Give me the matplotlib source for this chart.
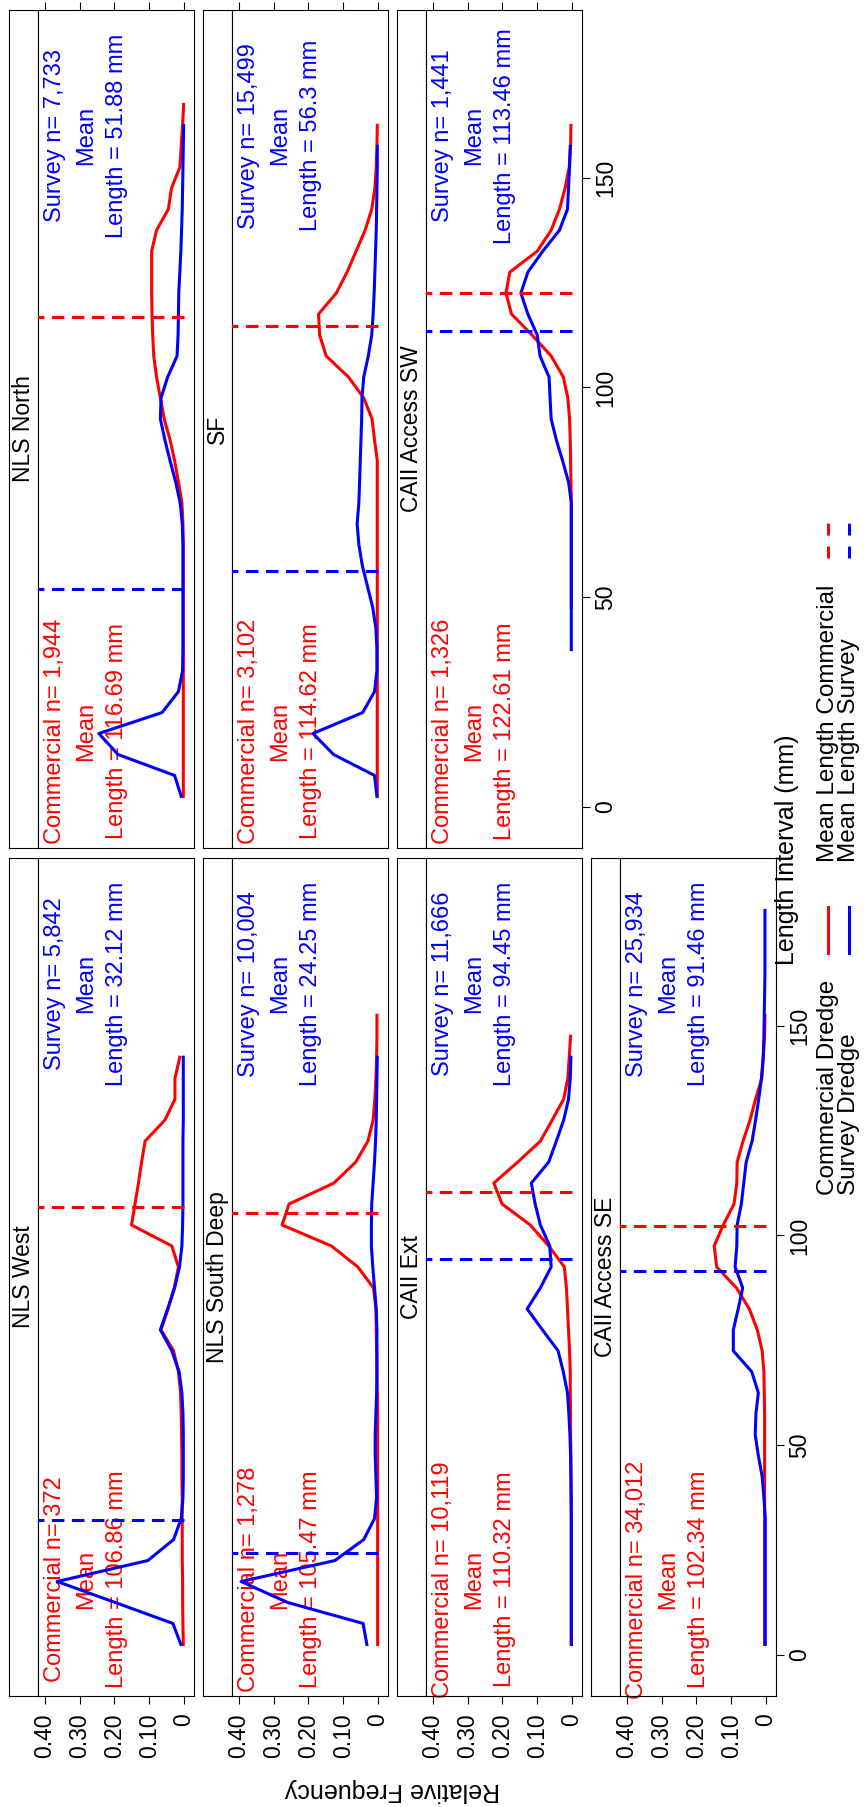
import numpy as np
import matplotlib
matplotlib.use('Agg')
import matplotlib.pyplot as plt
from matplotlib.lines import Line2D

plt.rcParams['font.family'] = ['Liberation Sans', 'DejaVu Sans']

# relative frequency per 5 mm length bin, first bin centre given by *_start
nls_west_comm_start = 2.5
nls_west_comm = [0.002, 0.003, 0.004, 0.004, 0.005, 0.005, 0.005, 0.005, 0.006, 0.006,
                 0.007, 0.008, 0.010, 0.016, 0.030, 0.066, 0.046, 0.028, 0.016, 0.035,
                 0.151, 0.141, 0.131, 0.122, 0.112, 0.055, 0.026, 0.026, 0.012]
nls_west_surv_start = 2.5
nls_west_surv = [0.009, 0.032, 0.198, 0.365, 0.104, 0.030, 0.008, 0.003, 0.002, 0.002,
                 0.002, 0.003, 0.006, 0.014, 0.035, 0.068, 0.047, 0.027, 0.013, 0.006,
                 0.004, 0.003, 0.003, 0.003, 0.003, 0.002, 0.002, 0.002, 0.002]

nls_sd_comm_start = 2.5
nls_sd_comm = [0.001, 0.001, 0.001, 0.001, 0.001, 0.001, 0.001, 0.001, 0.001, 0.001,
               0.001, 0.001, 0.002, 0.003, 0.004, 0.005, 0.006, 0.013, 0.058, 0.134,
               0.276, 0.256, 0.127, 0.064, 0.029, 0.014, 0.009, 0.006, 0.004, 0.003,
               0.003]
nls_sd_surv_start = 2.5
nls_sd_surv = [0.032, 0.043, 0.260, 0.394, 0.124, 0.041, 0.010, 0.004, 0.006, 0.008,
               0.008, 0.006, 0.004, 0.003, 0.003, 0.003, 0.005, 0.010, 0.015, 0.019,
               0.019, 0.018, 0.014, 0.010, 0.007, 0.005, 0.004, 0.003, 0.002]

caii_ext_comm_start = 2.5
caii_ext_comm = [0.002, 0.002, 0.002, 0.002, 0.002, 0.002, 0.002, 0.003, 0.003, 0.003,
                 0.004, 0.004, 0.005, 0.005, 0.007, 0.010, 0.013, 0.016, 0.022, 0.067,
                 0.120, 0.201, 0.225, 0.156, 0.091, 0.057, 0.024, 0.012, 0.008, 0.004]
caii_ext_surv_start = 2.5
caii_ext_surv = [0.002, 0.002, 0.002, 0.002, 0.002, 0.002, 0.002, 0.002, 0.003, 0.004,
                 0.006, 0.009, 0.013, 0.025, 0.040, 0.085, 0.129, 0.091, 0.060, 0.064,
                 0.091, 0.106, 0.117, 0.067, 0.045, 0.024, 0.010, 0.005, 0.003]

caii_se_comm_start = 2.5
caii_se_comm = [0.004, 0.004, 0.004, 0.004, 0.004, 0.004, 0.004, 0.004, 0.004, 0.004,
                0.004, 0.004, 0.005, 0.006, 0.011, 0.025, 0.048, 0.085, 0.142, 0.149,
                0.123, 0.092, 0.084, 0.083, 0.066, 0.046, 0.030, 0.012, 0.008, 0.004,
                0.003]
caii_se_surv_start = 2.5
caii_se_surv = [0.002, 0.002, 0.002, 0.002, 0.002, 0.002, 0.002, 0.006, 0.011, 0.022,
                0.031, 0.029, 0.022, 0.041, 0.094, 0.094, 0.080, 0.067, 0.089, 0.084,
                0.083, 0.071, 0.064, 0.057, 0.040, 0.030, 0.021, 0.013, 0.008, 0.006,
                0.005, 0.004, 0.003, 0.003, 0.003, 0.003]

nls_north_comm_start = 2.5
nls_north_comm = [0.002, 0.002, 0.002, 0.002, 0.002, 0.002, 0.002, 0.002, 0.002, 0.002,
                  0.002, 0.002, 0.002, 0.003, 0.006, 0.016, 0.027, 0.040, 0.057, 0.068,
                  0.079, 0.087, 0.090, 0.092, 0.093, 0.093, 0.093, 0.079, 0.045, 0.036,
                  0.012, 0.008, 0.004, 0.001]
nls_north_surv_start = 2.5
nls_north_surv = [0.008, 0.027, 0.190, 0.245, 0.063, 0.016, 0.004, 0.003, 0.003, 0.003,
                  0.003, 0.003, 0.003, 0.005, 0.011, 0.024, 0.040, 0.055, 0.068, 0.066,
                  0.047, 0.020, 0.017, 0.016, 0.015, 0.012, 0.009, 0.007, 0.005, 0.004,
                  0.003, 0.002, 0.001]

sf_comm_start = 2.5
sf_comm = [0.002, 0.002, 0.002, 0.002, 0.002, 0.002, 0.002, 0.002, 0.002, 0.002,
           0.002, 0.002, 0.002, 0.002, 0.002, 0.002, 0.002, 0.010, 0.017, 0.041,
           0.085, 0.149, 0.168, 0.171, 0.120, 0.089, 0.063, 0.037, 0.018, 0.009,
           0.005, 0.003, 0.002]
sf_surv_start = 2.5
sf_surv = [0.003, 0.010, 0.128, 0.187, 0.044, 0.010, 0.003, 0.003, 0.006, 0.015,
           0.030, 0.045, 0.055, 0.060, 0.055, 0.053, 0.051, 0.049, 0.047, 0.046,
           0.041, 0.028, 0.018, 0.014, 0.011, 0.009, 0.007, 0.005, 0.004, 0.003,
           0.002, 0.002]

caii_sw_comm_start = 47.5
caii_sw_comm = [0.002, 0.002, 0.002, 0.002, 0.002, 0.002, 0.003, 0.004, 0.005, 0.007,
                0.012, 0.025, 0.060, 0.115, 0.174, 0.190, 0.179, 0.100, 0.060, 0.036,
                0.020, 0.008, 0.004, 0.003]
caii_sw_surv_start = 37.5
caii_sw_surv = [0.002, 0.002, 0.002, 0.002, 0.002, 0.002, 0.002, 0.002, 0.010, 0.027,
                0.045, 0.060, 0.063, 0.066, 0.092, 0.100, 0.127, 0.147, 0.127, 0.084,
                0.036, 0.013, 0.010, 0.007, 0.005]

panel_names = ['NLS West', 'NLS South Deep', 'CAII Ext', 'CAII Access SE',
               'NLS North', 'SF', 'CAII Access SW']
comm_n = [372, 1278, 10119, 34012, 1944, 3102, 1326]
surv_n = [5842, 10004, 11666, 25934, 7733, 15499, 1441]
comm_mean = ['106.86', '105.47', '110.32', '102.34', '116.69', '114.62', '122.61']
surv_mean = ['32.12', '24.25', '94.45', '91.46', '51.88', '56.3', '113.46']

comm_series = [(nls_west_comm_start, nls_west_comm), (nls_sd_comm_start, nls_sd_comm),
               (caii_ext_comm_start, caii_ext_comm), (caii_se_comm_start, caii_se_comm),
               (nls_north_comm_start, nls_north_comm), (sf_comm_start, sf_comm),
               (caii_sw_comm_start, caii_sw_comm)]
surv_series = [(nls_west_surv_start, nls_west_surv), (nls_sd_surv_start, nls_sd_surv),
               (caii_ext_surv_start, caii_ext_surv), (caii_se_surv_start, caii_se_surv),
               (nls_north_surv_start, nls_north_surv), (sf_surv_start, sf_surv),
               (caii_sw_surv_start, caii_sw_surv)]

# (column, row) of each panel in the rotated page layout
panel_cells = [(0, 1), (1, 1), (2, 1), (3, 1), (0, 0), (1, 0), (2, 0)]

freq_ticks = [0, 0.1, 0.2, 0.3, 0.4]
freq_labels = ['0', '0.10', '0.20', '0.30', '0.40']
len_ticks = [0, 50, 100, 150]

W, H = 864, 1807
col_left = [9, 203, 397, 591]
row_top = [10, 858]
box_w, box_h, strip_w = 185, 838, 29

RED = '#ff0000'
BLUE = '#0000ff'
LW = 2.2
DASH = (4.1, 2.45)
FS = 16.5

fig = plt.figure(figsize=(W / 100, H / 100), dpi=100)


def fig_rect(x0, y0, w, h):
    return [x0 / W, 1 - (y0 + h) / H, w / W, h / H]


for i, name in enumerate(panel_names):
    col, row = panel_cells[i]
    left, top = col_left[col], row_top[row]

    sax = fig.add_axes(fig_rect(left, top, strip_w, box_h))
    sax.set_xticks([])
    sax.set_yticks([])
    for sp in sax.spines.values():
        sp.set_linewidth(0.8)
    sax.text(0.5, 0.5, name, rotation=90, ha='center', va='center',
             fontsize=FS, transform=sax.transAxes)

    ax = fig.add_axes(fig_rect(left + strip_w, top, box_w - strip_w, box_h))
    for sp in ax.spines.values():
        sp.set_linewidth(0.8)

    c_start, c_vals = comm_series[i]
    s_start, s_vals = surv_series[i]
    c_len = c_start + 5 * np.arange(len(c_vals))
    s_len = s_start + 5 * np.arange(len(s_vals))
    ax.plot(c_vals, c_len, color=RED, lw=LW, zorder=3)
    ax.plot(s_vals, s_len, color=BLUE, lw=LW, zorder=4)

    ax.plot([0, 0.5], [float(comm_mean[i])] * 2, color=RED, lw=LW,
            dashes=DASH, zorder=5)
    ax.plot([0, 0.5], [float(surv_mean[i])] * 2, color=BLUE, lw=LW,
            dashes=DASH, zorder=5)

    ax.text(0.282, 18, f'Commercial n= {comm_n[i]:,}\nMean\nLength = {comm_mean[i]} mm',
            color=RED, rotation=90, ha='center', va='center', multialignment='center',
            fontsize=17, linespacing=1.55, zorder=1)
    ax.text(0.282, 160, f'Survey n= {surv_n[i]:,}\nMean\nLength = {surv_mean[i]} mm',
            color=BLUE, rotation=90, ha='center', va='center', multialignment='center',
            fontsize=17, linespacing=1.55, zorder=1)

    ax.set_xlim(0.4201, -0.0288)
    ax.set_ylim(-9.8, 190)

    ax.set_xticks(freq_ticks)
    if row == 1:
        ax.set_xticklabels(freq_labels)
        ax.tick_params(axis='x', bottom=True, top=False, labelbottom=True,
                       direction='out', length=5.8, width=0.8, pad=6.5,
                       labelsize=FS, labelrotation=90)
    else:
        ax.tick_params(axis='x', bottom=False, top=True, labelbottom=False,
                       labeltop=False, direction='out', length=5.5, width=0.8)

    if (col, row) in [(3, 1), (2, 0)]:
        ax.yaxis.tick_right()
        ax.set_yticks(len_ticks)
        ax.set_yticklabels([str(t) for t in len_ticks])
        ax.tick_params(axis='y', right=True, left=False, labelright=True,
                       labelleft=False, direction='out', length=5.8, width=0.8,
                       pad=3, labelsize=FS, labelrotation=90)
        for lab in ax.get_yticklabels():
            lab.set_va('center')
    else:
        ax.set_yticks([])

fig.text(787 / W, 1 - 850 / H, 'Length Interval (mm)', rotation=90,
         ha='center', va='center', fontsize=18)
fig.text(392 / W, 1 - 1790 / H, 'Relative Frequency', rotation=180,
         ha='center', va='center', fontsize=18)

# legend, drawn in figure pixels of the rotated page
legend_rows = [('Commercial Dredge', 'Mean Length Commercial', RED, 828),
               ('Survey Dredge', 'Mean Length Survey', BLUE, 849)]
for lab1, lab2, colr, xk in legend_rows:
    fig.text(xk / W, 1 - 1195 / H, lab1, rotation=90, ha='center', va='bottom',
             fontsize=17.5)
    fig.add_artist(Line2D([xk / W, xk / W], [1 - 953 / H, 1 - 907 / H],
                          color=colr, lw=LW, transform=fig.transFigure))
    fig.text(xk / W, 1 - 862 / H, lab2, rotation=90, ha='center', va='bottom',
             fontsize=17.5)
    fig.add_artist(Line2D([xk / W, xk / W], [1 - 558 / H, 1 - 523 / H],
                          color=colr, lw=LW, dashes=(3.9, 3.6),
                          transform=fig.transFigure))

fig.savefig('out.png', dpi=100)
